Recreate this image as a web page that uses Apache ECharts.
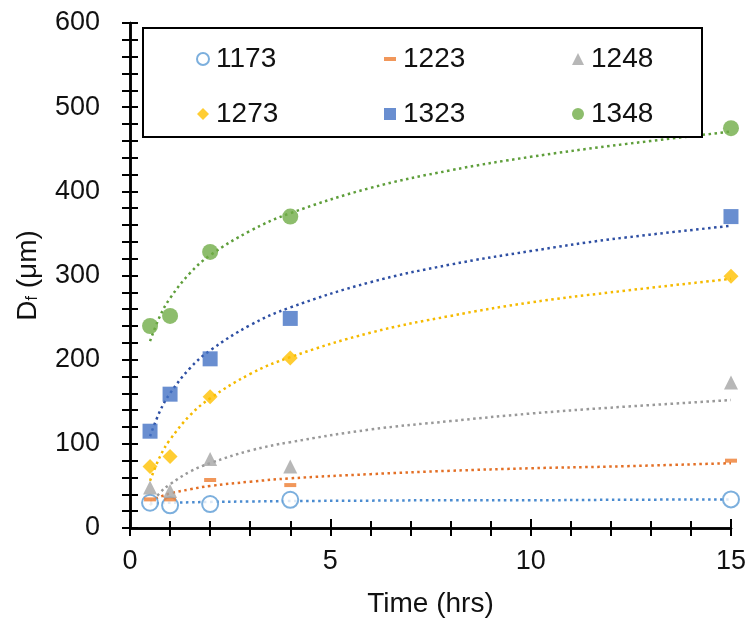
<!DOCTYPE html>
<html>
<head>
<meta charset="utf-8">
<script src="https://cdn.jsdelivr.net/npm/echarts@6/dist/echarts.min.js"></script>
<style>
html,body{margin:0;padding:0;background:#fff;}
#chart{width:749px;height:623px;}
</style>
</head>
<body>
<div id="chart"></div>
<script>
// Measured time points (hrs)
var times = [0.5, 1, 2, 4, 15];
// Series names (temperatures)
var names = ['1173', '1223', '1248', '1273', '1323', '1348'];
// Measured D_f values (µm)
var d1173 = [30, 27, 28.5, 33.5, 34];
var d1223 = [34, 34, 57, 51, 80];
var d1248 = [48, 44, 82, 73, 173];
var d1273 = [73, 85, 156, 202, 299];
var d1323 = [115, 159, 201, 249, 370];
var d1348 = [240, 252, 328, 370, 475];
// Trend line (dotted) readings from the picture
var trendTimes = [0.5, 0.75, 1, 1.5, 2, 3, 4, 6, 8, 10, 12, 15];
var t1173 = [29, 29.5, 30, 30.5, 31, 31.5, 32, 32.5, 33, 33, 33.5, 34];
var t1223 = [32, 37, 41, 46, 50, 55, 59, 64, 68, 71, 73, 77];
var t1248 = [27, 42, 52, 67, 77, 92, 102, 117, 127, 136, 143, 152];
var t1273 = [56, 85, 105, 134, 154, 183, 203, 232, 252, 268, 280, 296];
var t1323 = [109, 139, 160, 190, 211, 241, 262, 292, 313, 329, 343, 359];
var t1348 = [222, 252, 273, 303, 324, 353, 374, 404, 425, 441, 454, 471];
// Axis ticks
var xTicks = [0, 5, 10, 15];
var yTicks = [0, 100, 200, 300, 400, 500, 600];

function pairs(xs, ys) { return xs.map(function (x, i) { return [x, ys[i]]; }); }

var FONT = 'Liberation Sans, Arial, sans-serif';
var markerColors = ['#5B9BD5', '#ED7D31', '#A5A5A5', '#FFC000', '#4472C4', '#70AD47'];
var trendColors = ['#4A8BD0', '#E36F25', '#999999', '#F5BA00', '#2E4FA3', '#5E9E3A'];
var symbols = ['emptyCircle', 'path://M0,0H12V4H0Z', 'triangle', 'diamond', 'rect', 'circle'];
var symSizes = [16, [12, 4], 14, 15, 15, 16];
var measured = [d1173, d1223, d1248, d1273, d1323, d1348];
var trends = [t1173, t1223, t1248, t1273, t1323, t1348];

var series = [];
names.forEach(function (n, i) {
  series.push({
    name: n + ' trend',
    type: 'line',
    data: pairs(trendTimes, trends[i]),
    showSymbol: false,
    symbol: 'none',
    smooth: 0.4,
    silent: true,
    lineStyle: { color: trendColors[i], width: 2.5, type: [2.5, 3.5] },
    z: 2
  });
});
names.forEach(function (n, i) {
  series.push({
    name: n,
    type: 'scatter',
    data: pairs(times, measured[i]),
    symbol: symbols[i],
    symbolSize: symSizes[i],
    clip: false,
    itemStyle: i === 0 ? { color: markerColors[i], borderColor: markerColors[i], borderWidth: 1.5 } : { color: markerColors[i] },
    z: 3
  });
});

function legendCol(data, left) {
  return {
    data: data,
    orient: 'vertical',
    left: left,
    top: 40,
    itemWidth: 12,
    itemHeight: 12,
    itemGap: 27,
    selectedMode: false,
    z: 10,
    textStyle: { fontFamily: FONT, fontSize: 28, color: '#111', lineHeight: 28, padding: [0, 0, 0, 2] }
  };
}

var axisLineStyle = { show: true, lineStyle: { color: '#000', width: 2.5 } };

var option = {
  backgroundColor: '#fff',
  animation: false,
  grid: { left: 130, right: 17, top: 23, bottom: 94 },
  legend: [
    legendCol(['1173', '1273'], 191),
    legendCol(['1223', '1323'], 379),
    legendCol(['1248', '1348'], 567)
  ],
  graphic: [{
    type: 'rect',
    shape: { x: 143, y: 28, width: 559, height: 109 },
    style: { fill: '#fff', stroke: '#000', lineWidth: 2 },
    z: 5
  }],
  xAxis: [{
    type: 'value', min: xTicks[0], max: xTicks[xTicks.length - 1], interval: 5,
    name: 'Time (hrs)', nameLocation: 'middle', nameGap: 62,
    nameTextStyle: { fontFamily: FONT, fontSize: 28, color: '#111' },
    axisLine: axisLineStyle,
    axisTick: { show: true, inside: true, length: 9, lineStyle: { color: '#000', width: 2 } },
    minorTick: { show: true, splitNumber: 5, length: 7, lineStyle: { color: '#000', width: 2 } },
    axisLabel: { fontFamily: FONT, fontSize: 27, color: '#111', margin: 20 },
    splitLine: { show: false }
  }, {
    type: 'value', position: 'top', min: 0, max: 15, interval: 5,
    axisLine: axisLineStyle,
    axisTick: { show: true, inside: true, length: 8, lineStyle: { color: '#000', width: 2 } },
    minorTick: { show: true, splitNumber: 5, length: 8, lineStyle: { color: '#000', width: 2 } },
    axisLabel: { show: false },
    splitLine: { show: false }
  }],
  yAxis: [{
    type: 'value', min: yTicks[0], max: yTicks[yTicks.length - 1], interval: 100,
    name: '{d|D}{f|f}{r| (μm)}', nameLocation: 'middle', nameGap: 86, nameRotate: 90,
    nameTextStyle: {
      fontFamily: FONT, color: '#111',
      rich: {
        d: { fontFamily: FONT, fontSize: 28, color: '#111', lineHeight: 32, verticalAlign: 'middle' },
        f: { fontFamily: FONT, fontSize: 16, color: '#111', lineHeight: 32, verticalAlign: 'bottom', padding: [0, 0, 3, 0] },
        r: { fontFamily: FONT, fontSize: 28, color: '#111', lineHeight: 32, verticalAlign: 'middle' }
      }
    },
    axisLine: axisLineStyle,
    axisTick: { show: true, inside: true, length: 8, lineStyle: { color: '#000', width: 2 } },
    minorTick: { show: true, splitNumber: 5, length: 8, lineStyle: { color: '#000', width: 2 } },
    axisLabel: { fontFamily: FONT, fontSize: 27, color: '#111', margin: 30 },
    splitLine: { show: false }
  }, {
    type: 'value', position: 'right', min: 0, max: 600, interval: 100,
    axisLine: axisLineStyle,
    axisTick: { show: true, inside: true, length: 8, lineStyle: { color: '#000', width: 2 } },
    minorTick: { show: true, splitNumber: 5, length: 8, lineStyle: { color: '#000', width: 2 } },
    axisLabel: { show: false },
    splitLine: { show: false }
  }],
  series: series
};

var chart = echarts.init(document.getElementById('chart'), null, { renderer: 'canvas' });
chart.setOption(option);
</script>
</body>
</html>
